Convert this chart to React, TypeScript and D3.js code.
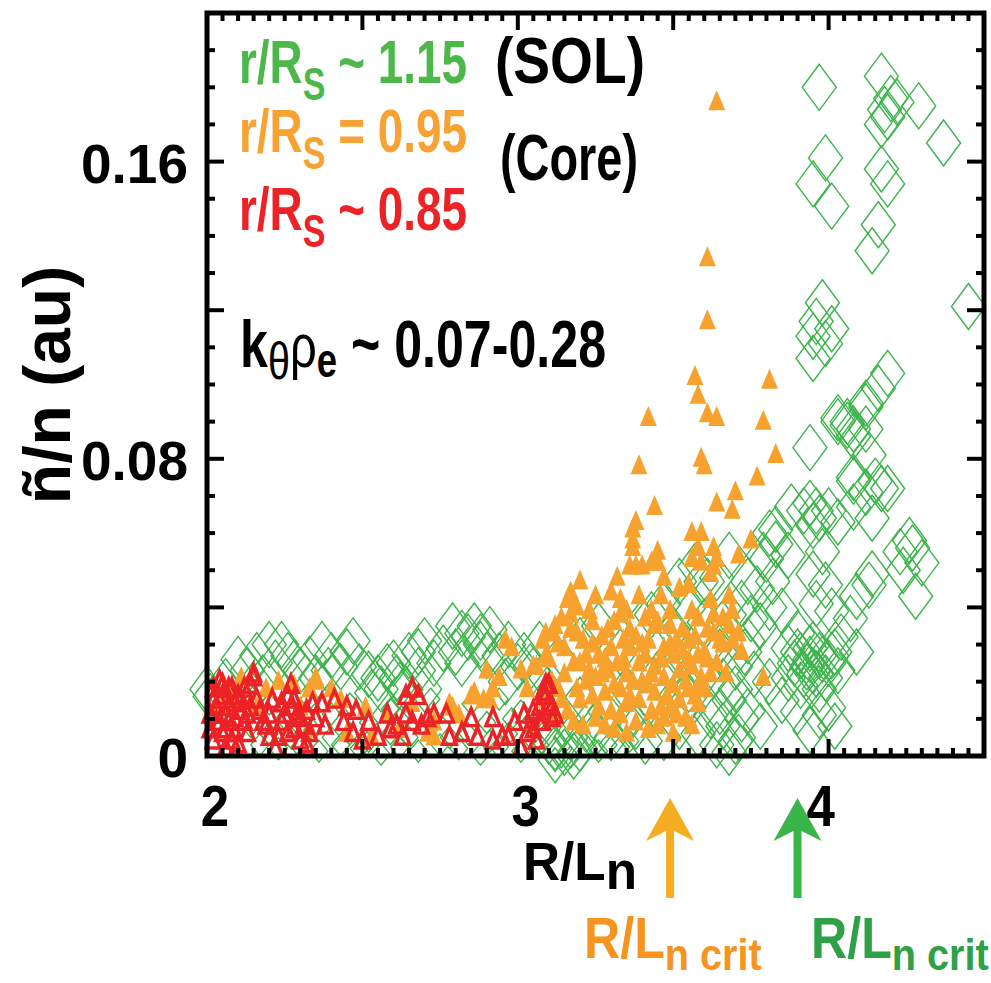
import React from 'react';
import * as d3 from 'd3';

// ---------- data ----------
const X_DOMAIN: [number, number] = [2, 4.5];
const Y_DOMAIN: [number, number] = [0, 0.2];
const X_TICK_LABELS = [2, 3, 4];
const Y_TICK_LABELS = [0, 0.08, 0.16];
const CRIT_CORE = 3.49; // R/Ln crit, core (r/Rs = 0.95)
const CRIT_SOL = 3.9; // R/Ln crit, SOL (r/Rs ~ 1.15)

// r/Rs ~ 1.15 (SOL), open diamonds
const solLarge: [number, number][] = [
  [3.97, 0.18], [4.17, 0.183], [4.2, 0.177], [4.18, 0.174], [4.22, 0.176], [4.29, 0.175], [4.17, 0.17], [4.19, 0.172],
  [4.37, 0.165], [3.99, 0.161], [3.95, 0.154], [4.01, 0.148], [4.17, 0.158], [4.19, 0.154], [4.16, 0.143], [4.14, 0.136],
  [4.45, 0.121], [3.98, 0.122], [3.96, 0.117], [4.01, 0.115], [3.95, 0.113], [3.99, 0.111], [3.95, 0.107], [4.19, 0.103],
  [4.16, 0.099], [4.12, 0.094], [4.03, 0.09], [4.06, 0.089], [4.08, 0.086], [3.94, 0.083], [4.13, 0.081], [4.08, 0.074],
  [4.17, 0.072], [4.12, 0.095], [4.03, 0.091], [4.06, 0.09], [4.08, 0.088], [4.12, 0.088], [4.08, 0.075], [4.15, 0.074],
  [4.19, 0.072], [4.12, 0.071], [3.94, 0.068], [3.96, 0.066], [3.92, 0.066], [3.97, 0.064], [4.0, 0.066], [3.95, 0.062],
  [4.03, 0.063], [4.14, 0.064], [4.08, 0.067], [4.26, 0.058], [4.27, 0.056], [4.23, 0.055], [4.3, 0.052], [4.28, 0.043],
  [4.24, 0.05], [4.14, 0.049], [4.13, 0.046], [4.09, 0.043], [3.83, 0.057], [3.8, 0.053], [3.77, 0.045], [3.87, 0.054],
  [3.98, 0.055], [3.95, 0.049], [3.99, 0.046], [3.96, 0.041], [4.01, 0.039], [4.07, 0.037], [4.09, 0.028], [4.04, 0.032],
  [3.85, 0.039], [3.81, 0.04], [3.75, 0.037], [3.9, 0.033],
  [3.87, 0.029], [3.91, 0.027], [3.94, 0.026], [3.97, 0.027], [4.0, 0.025], [3.95, 0.023], [3.92, 0.022], [3.89, 0.025],
  [3.99, 0.021], [3.94, 0.029], [4.02, 0.028], [3.91, 0.019], [3.97, 0.018], [3.87, 0.021], [4.03, 0.023], [3.93, 0.024],
  [3.96, 0.022], [3.98, 0.026], [3.9, 0.028], [3.95, 0.03], [4.01, 0.027],
  [3.9, 0.012], [3.97, 0.011], [4.02, 0.008], [3.94, 0.007], [4.0, 0.013], [3.71, 0.005],
  [3.83, 0.061], [3.79, 0.054], [3.82, 0.047], [3.74, 0.047], [3.72, 0.041], [3.68, 0.038], [3.64, 0.048], [3.57, 0.051],
  [3.61, 0.047], [3.52, 0.047], [3.47, 0.041], [3.43, 0.038], [3.74, 0.031], [3.7, 0.024], [3.66, 0.02], [3.68, 0.015],
  [3.62, 0.011], [3.55, 0.013], [3.52, 0.008], [3.47, 0.005], [3.41, 0.004], [3.36, 0.01], [3.3, 0.005], [3.23, 0.009],
  [3.17, 0.005], [3.12, 0.002], [3.81, 0.02], [3.85, 0.015], [3.88, 0.067], [3.81, 0.06], [3.59, 0.047], [3.68, 0.054],
  [3.66, 0.008], [3.7, 0.004], [3.72, 0.01], [3.64, 0.003], [3.68, 0.001],
  [3.12, -0.001], [3.15, 0.001], [3.18, 0.0], [3.14, 0.003], [3.2, 0.002], [3.1, 0.004],
  [2.0, 0.018], [2.01, 0.016], [2.13, 0.023], [2.24, 0.03], [2.26, 0.027], [2.3, 0.023], [2.22, 0.025], [2.18, 0.021],
  [2.4, 0.027], [2.45, 0.028], [2.49, 0.024], [2.39, 0.023], [2.35, 0.021], [2.56, 0.018], [2.61, 0.021], [2.65, 0.027],
  [2.68, 0.023], [2.64, 0.018], [2.79, 0.035], [2.84, 0.032], [2.88, 0.03], [2.91, 0.034], [2.76, 0.029], [2.82, 0.025],
  [2.94, 0.027], [3.0, 0.024], [3.05, 0.023], [2.82, 0.033], [2.88, 0.032], [2.68, 0.028], [2.55, 0.021], [3.04, 0.024],
  [3.09, 0.021], [2.58, 0.024], [2.62, 0.019],
  [2.06, 0.02], [2.1, 0.026], [2.16, 0.027], [2.2, 0.03], [2.28, 0.025], [2.33, 0.026], [2.37, 0.03], [2.43, 0.024],
  [2.47, 0.031], [2.52, 0.022], [2.6, 0.025], [2.7, 0.031], [2.73, 0.025], [2.8, 0.028], [2.86, 0.035], [2.9, 0.027],
  [2.97, 0.03], [3.02, 0.027], [3.07, 0.03], [2.53, 0.017], [2.7, 0.018], [2.96, 0.02],
  [3.13, 0.026], [3.2, 0.031], [3.26, 0.035], [3.33, 0.028], [3.4, 0.036], [3.45, 0.03], [3.5, 0.034], [3.55, 0.04],
  [3.6, 0.036], [3.2, 0.015], [3.28, 0.012], [3.35, 0.018], [3.42, 0.014], [3.48, 0.02], [3.55, 0.018], [3.6, 0.022],
  [3.65, 0.028], [3.62, 0.03], [3.58, 0.025], [3.5, 0.024], [3.45, 0.022], [3.38, 0.008], [3.25, 0.006], [3.15, 0.01],
  [3.58, 0.006], [3.65, 0.012], [3.7, 0.018], [3.73, 0.028], [3.76, 0.022], [3.78, 0.035], [3.74, 0.012], [3.78, 0.008],
];

const solSmall: [number, number][] = [
  [2.17, 0.003], [2.23, 0.002], [2.3, 0.0024], [2.36, 0.0013], [2.43, 0.003], [2.49, 0.002], [2.56, 0.0005], [2.62, 0.0024],
  [2.68, 0.0013], [2.75, 0.003], [2.81, 0.002], [2.88, 0.0005], [2.94, 0.0024], [3.01, 0.0013], [3.07, 0.003], [3.12, -0.0008],
  [3.17, -0.0003], [3.26, 0.0013], [3.33, 0.0024],
  [2.04, 0.0153], [2.11, 0.0126], [2.2, 0.014], [2.33, 0.0153], [2.4, 0.0113], [2.46, 0.014], [2.59, 0.0126], [2.72, 0.0153],
  [2.78, 0.0113], [2.85, 0.014], [2.94, 0.0153], [3.01, 0.0121], [3.09, 0.0153],
  [2.2, 0.006], [2.27, 0.005], [2.34, 0.007], [2.4, 0.005], [2.46, 0.006], [2.52, 0.004], [2.59, 0.006], [2.65, 0.005],
  [2.71, 0.007], [2.78, 0.005], [2.84, 0.006], [2.91, 0.004], [2.97, 0.006], [3.04, 0.005], [3.22, 0.004], [3.29, 0.003],
  [3.36, 0.004], [3.05, 0.009], [2.98, 0.01], [2.9, 0.009], [2.62, 0.01], [2.52, 0.009], [2.25, 0.01], [2.14, 0.008],
];

// r/Rs = 0.95 (core), filled triangles
const core095: [number, number][] = [
  [3.64, 0.176], [3.61, 0.134], [3.61, 0.117], [3.57, 0.102], [3.81, 0.101], [3.58, 0.097], [3.42, 0.091], [3.61, 0.092],
  [3.64, 0.091], [3.79, 0.09], [3.39, 0.078], [3.59, 0.08], [3.6, 0.078], [3.83, 0.081], [3.77, 0.075], [3.7, 0.071],
  [3.64, 0.068], [3.69, 0.066], [3.44, 0.067], [3.38, 0.063], [3.37, 0.061], [3.37, 0.058], [3.37, 0.056], [3.56, 0.06],
  [3.59, 0.06], [3.75, 0.058], [3.58, 0.056], [3.63, 0.056], [3.64, 0.053], [3.63, 0.051], [3.62, 0.049], [3.71, 0.054],
  [3.45, 0.055], [3.45, 0.052], [3.47, 0.048], [3.43, 0.052], [3.56, 0.053], [3.59, 0.052], [3.36, 0.051], [3.38, 0.051],
  [3.4, 0.051], [3.32, 0.048], [3.2, 0.047], [3.17, 0.044], [3.17, 0.042], [3.17, 0.038], [3.68, 0.043], [3.69, 0.039],
  [3.71, 0.033], [3.72, 0.028], [3.69, 0.031], [3.56, 0.039], [3.62, 0.042], [3.63, 0.038], [3.24, 0.036], [3.12, 0.035],
  [3.08, 0.031], [3.05, 0.024], [3.33, 0.038], [3.35, 0.039], [3.43, 0.039], [3.41, 0.037], [3.44, 0.035], [3.49, 0.035],
  [3.79, 0.021],
  [3.1, 0.026], [3.15, 0.029], [3.18, 0.025], [3.21, 0.031], [3.25, 0.021], [3.26, 0.027], [3.29, 0.023], [3.33, 0.018],
  [3.36, 0.029], [3.39, 0.025], [3.42, 0.019], [3.46, 0.026], [3.49, 0.03], [3.52, 0.023], [3.55, 0.018], [3.58, 0.027],
  [3.62, 0.022], [3.65, 0.031], [3.13, 0.018], [3.2, 0.015], [3.26, 0.013], [3.33, 0.011], [3.39, 0.015], [3.46, 0.013],
  [3.52, 0.015], [3.58, 0.014], [3.12, 0.01], [3.18, 0.009], [3.25, 0.01], [3.31, 0.007], [3.38, 0.009], [3.42, 0.007],
  [3.47, 0.01], [3.54, 0.01], [3.6, 0.018], [3.09, 0.015], [3.23, 0.039], [3.29, 0.034], [3.36, 0.034], [3.42, 0.031],
  [3.49, 0.039], [3.58, 0.037], [3.63, 0.033], [3.66, 0.037], [3.55, 0.031], [3.46, 0.043], [3.39, 0.043], [3.33, 0.042],
  [3.22, 0.02], [3.28, 0.017], [3.35, 0.022], [3.44, 0.024], [3.5, 0.019], [3.56, 0.024], [3.6, 0.028], [3.15, 0.022],
  [3.3, 0.029], [3.4, 0.02], [3.48, 0.016], [3.53, 0.028], [3.27, 0.032], [3.34, 0.026], [3.2, 0.025], [3.14, 0.015],
  [3.11, 0.02], [3.16, 0.012], [3.19, 0.033], [3.22, 0.027], [3.24, 0.016], [3.27, 0.022], [3.3, 0.012], [3.31, 0.036],
  [3.32, 0.025], [3.35, 0.014], [3.37, 0.02], [3.38, 0.032], [3.41, 0.027], [3.43, 0.012], [3.44, 0.017], [3.45, 0.036],
  [3.47, 0.021], [3.5, 0.027], [3.51, 0.011], [3.53, 0.034], [3.54, 0.02], [3.57, 0.032], [3.57, 0.016], [3.59, 0.021],
  [3.61, 0.026], [3.61, 0.034], [3.64, 0.025], [3.66, 0.03], [3.67, 0.022], [3.68, 0.035], [3.13, 0.03], [3.19, 0.04],
  [3.25, 0.043], [3.3, 0.044], [3.52, 0.045], [3.55, 0.046], [3.21, 0.008], [3.28, 0.008], [3.35, 0.006], [3.45, 0.008],
  [3.5, 0.006], [3.56, 0.008],
  [3.17, 0.034], [3.19, 0.018], [3.23, 0.023], [3.24, 0.03], [3.28, 0.026], [3.31, 0.019], [3.34, 0.031], [3.36, 0.016],
  [3.4, 0.03], [3.43, 0.022], [3.47, 0.029], [3.49, 0.013], [3.51, 0.031], [3.55, 0.026], [3.58, 0.019],
  [2.11, 0.021], [2.19, 0.018], [2.23, 0.02], [2.28, 0.019], [2.35, 0.02], [2.43, 0.015], [2.51, 0.013], [2.58, 0.011],
  [2.66, 0.014], [2.73, 0.009], [2.79, 0.013], [2.85, 0.016], [2.9, 0.023], [2.92, 0.018], [2.96, 0.031], [2.98, 0.029],
  [2.94, 0.021], [3.01, 0.023], [3.03, 0.018], [3.06, 0.024], [3.09, 0.027], [3.11, 0.033], [2.45, 0.006], [2.53, 0.005],
  [2.73, 0.005], [2.81, 0.011], [2.89, 0.015], [2.04, 0.013], [2.08, 0.016], [2.16, 0.013], [2.3, 0.013], [2.33, 0.007],
  [3.14, 0.037], [3.16, 0.042], [3.09, 0.033], [2.33, 0.018], [2.35, 0.021], [2.4, 0.018], [2.78, 0.014], [2.86, 0.017],
  [2.91, 0.015], [2.62, 0.007], [2.71, 0.006],
];

// r/Rs ~ 0.85 (core), open triangles
const core085: [number, number][] = [
  [2.02, 0.018], [2.04, 0.015], [2.05, 0.019], [2.07, 0.013], [2.1, 0.016], [2.03, 0.009], [2.06, 0.007], [2.02, 0.004],
  [2.08, 0.004], [2.12, 0.009], [2.11, 0.015], [2.15, 0.021], [2.14, 0.019], [2.14, 0.013], [2.17, 0.012], [2.19, 0.008],
  [2.2, 0.005], [2.22, 0.002], [2.26, 0.016], [2.27, 0.013], [2.24, 0.009], [2.28, 0.007], [2.3, 0.004], [2.32, 0.003],
  [2.23, 0.005], [2.33, 0.006], [2.34, 0.014], [2.37, 0.014], [2.41, 0.015], [2.38, 0.008], [2.44, 0.009], [2.45, 0.013],
  [2.48, 0.012], [2.47, 0.006], [2.5, 0.004], [2.52, 0.009], [2.55, 0.005], [2.58, 0.011], [2.59, 0.007], [2.61, 0.008],
  [2.63, 0.005], [2.64, 0.016], [2.66, 0.018], [2.68, 0.016], [2.64, 0.011], [2.66, 0.009], [2.69, 0.008], [2.71, 0.01],
  [2.73, 0.011], [2.77, 0.011], [2.78, 0.005], [2.82, 0.006], [2.85, 0.01], [2.87, 0.005], [2.92, 0.01], [2.92, 0.004],
  [2.95, 0.005], [2.97, 0.005], [2.99, 0.009], [3.02, 0.011], [3.01, 0.002], [3.05, 0.007], [3.07, 0.013], [3.09, 0.016],
  [3.1, 0.019], [3.06, 0.004], [3.08, 0.009], [3.11, 0.01],
  [2.03, 0.013], [2.06, 0.011], [2.09, 0.01], [2.11, 0.012], [2.04, 0.02], [2.08, 0.018], [2.05, 0.006], [2.13, 0.006],
  [2.1, 0.003], [2.16, 0.015], [2.18, 0.009], [2.25, 0.011], [2.28, 0.015], [2.3, 0.01], [2.27, 0.019], [2.15, 0.022],
  [3.09, 0.019], [3.11, 0.013], [3.12, 0.011],
  [2.01, 0.011], [2.02, 0.015], [2.04, 0.009], [2.05, 0.016], [2.07, 0.018], [2.07, 0.009], [2.09, 0.014], [2.09, 0.006],
  [2.12, 0.018], [2.13, 0.011], [2.01, 0.007], [2.06, 0.002], [2.2, 0.011], [2.21, 0.015], [2.24, 0.014], [2.26, 0.006],
  [2.29, 0.011], [2.31, 0.008], [2.32, 0.012], [2.35, 0.01], [3.05, 0.012], [3.07, 0.009], [3.08, 0.017], [3.03, 0.006],
  [3.1, 0.014],
];

// ---------- style ----------
const FONT = '"Liberation Sans", Arial, Helvetica, sans-serif';
const GREEN = '#3cb44a';
const ORANGE = '#f7a22e';
const RED = '#ed2226';
const LEG_GREEN = '#4cb849';
const LEG_ORANGE = '#f7a233';
const ARROW_ORANGE = '#f5ad22';
const ARROW_GREEN = '#39b54a';
const CRIT_ORANGE = '#f7941d';
const CRIT_GREEN = '#2ea045';

const W = 991;
const H = 983;
const M = { left: 207, right: 984, top: 13, bottom: 756 };

export default function App() {
  const x = d3.scaleLinear().domain(X_DOMAIN).range([M.left, M.right]);
  const y = d3.scaleLinear().domain(Y_DOMAIN).range([M.bottom, M.top]);

  const xTicks = d3.range(0, 51).map((i) => ({ v: X_DOMAIN[0] + i * 0.05, major: i % 10 === 0 }));
  const yTicks = d3.range(0, 21).map((i) => ({ v: i * 0.01, major: i % 4 === 0 }));

  const diamond = (hw: number, hh: number) => `M0,${-hh}L${hw},0L0,${hh}L${-hw},0Z`;
  const tri = (hw: number, hh: number) => `M0,${-hh * 0.6}L${hw},${hh * 0.4}L${-hw},${hh * 0.4}Z`;

  const arrow = (cx: number) => {
    const tip = 798, corner = 841, notch = 831, base = 898, hw = 24, sw = 4;
    return `M${cx},${tip}L${cx + hw},${corner}L${cx + sw},${notch}L${cx + sw},${base}L${cx - sw},${base}L${cx - sw},${notch}L${cx - hw},${corner}Z`;
  };

  const xLabelDx = [8, 8, -8];

  return (
    <svg
      width={W}
      height={H}
      style={{ position: 'absolute', left: 0, top: 0, background: '#fff' }}
      fontFamily={FONT}
    >
      <rect x={0} y={0} width={W} height={H} fill="#fff" />

      {/* SOL diamonds */}
      <g fill="none" stroke={GREEN} strokeWidth={1.4}>
        {solSmall.map((d, i) => (
          <path key={'s' + i} d={diamond(9, 11)} transform={`translate(${x(d[0])},${y(d[1])})`} />
        ))}
        {solLarge.map((d, i) => (
          <path key={'l' + i} d={diamond(17, 23)} transform={`translate(${x(d[0])},${y(d[1])})`} />
        ))}
      </g>

      {/* core 0.95 filled triangles */}
      <g fill={ORANGE} stroke="none">
        {core095.map((d, i) => (
          <path key={i} d={tri(8.5, 20)} transform={`translate(${x(d[0])},${y(d[1])})`} />
        ))}
      </g>

      {/* core 0.85 open triangles */}
      <g fill="none" stroke={RED} strokeWidth={3.4} strokeLinejoin="miter">
        {core085.map((d, i) => (
          <path key={i} d={tri(7, 17)} transform={`translate(${x(d[0])},${y(d[1])})`} />
        ))}
      </g>

      {/* frame */}
      <rect
        x={M.left}
        y={M.top}
        width={M.right - M.left}
        height={M.bottom - M.top}
        fill="none"
        stroke="#000"
        strokeWidth={5}
      />
      {/* ticks */}
      <g stroke="#000" strokeWidth={4}>
        {xTicks.map((t, i) => {
          const len = t.major ? 17 : 8;
          return (
            <g key={'x' + i}>
              <line x1={x(t.v)} x2={x(t.v)} y1={M.bottom} y2={M.bottom - len} />
              <line x1={x(t.v)} x2={x(t.v)} y1={M.top} y2={M.top + len} />
            </g>
          );
        })}
        {yTicks.map((t, i) => {
          const len = t.major ? 17 : 8;
          return (
            <g key={'y' + i}>
              <line x1={M.left} x2={M.left + len} y1={y(t.v)} y2={y(t.v)} />
              <line x1={M.right} x2={M.right - len} y1={y(t.v)} y2={y(t.v)} />
            </g>
          );
        })}
      </g>

      {/* tick labels */}
      <g fontWeight="bold" fill="#000">
        {Y_TICK_LABELS.map((v) => (
          <text key={v} x={188} y={y(v) + 21} fontSize={55} textAnchor="end">
            {v === 0 ? '0' : String(v)}
          </text>
        ))}
        {X_TICK_LABELS.map((v, i) => (
          <text
            key={v}
            transform={`translate(${x(v) + xLabelDx[i]},826) scale(0.88,1)`}
            fontSize={58}
            textAnchor="middle"
          >
            {String(v)}
          </text>
        ))}
      </g>

      {/* y axis title */}
      <text
        transform="translate(70,385) rotate(-90)"
        textAnchor="middle"
        fontSize={66}
        fontWeight="bold"
        fill="#000"
      >
        ñ/n (au)
      </text>

      {/* legend text */}
      <g fontWeight="bold" style={{ whiteSpace: 'pre' }}>
        <text transform="translate(239,83) scale(0.74,1)" fontSize={62} fill={LEG_GREEN}>
          r/R<tspan fontSize={46} dy={17}>S</tspan>
          <tspan dy={-17}>{' ~ 1.15'}</tspan>
        </text>
        <text transform="translate(239,152) scale(0.74,1)" fontSize={62} fill={LEG_ORANGE}>
          r/R<tspan fontSize={46} dy={17}>S</tspan>
          <tspan dy={-17}>{' = 0.95'}</tspan>
        </text>
        <text transform="translate(239,230) scale(0.74,1)" fontSize={62} fill={RED}>
          r/R<tspan fontSize={46} dy={17}>S</tspan>
          <tspan dy={-17}>{' ~ 0.85'}</tspan>
        </text>
        <text x={495} y={83} fontSize={65} fill="#000" textLength={150} lengthAdjust="spacingAndGlyphs">
          (SOL)
        </text>
        <text x={500} y={180} fontSize={65} fill="#000" textLength={138} lengthAdjust="spacingAndGlyphs">
          (Core)
        </text>
        <text transform="translate(240,367) scale(0.76,1)" fontSize={66} fill="#000">
          k<tspan fontWeight="normal" fontSize={52} dy={12}>θ</tspan>
          <tspan fontWeight="normal" fontSize={62} dy={-12}>ρ</tspan>
          <tspan fontSize={48} dy={10}>e</tspan>
          <tspan dy={-10}>{' ~ 0.07-0.28'}</tspan>
        </text>
      </g>

      {/* x axis title */}
      <g fontWeight="bold" style={{ whiteSpace: 'pre' }}>
        <text transform="translate(523,880) scale(0.95,1)" fontSize={54} fill="#000">
          R/L<tspan fontSize={54} dy={9}>n</tspan>
        </text>
        <text transform="translate(584,958) scale(0.88,1)" fontSize={57} fill={CRIT_ORANGE}>
          R/L<tspan fontSize={45} dy={12}>{'n crit'}</tspan>
        </text>
        <text transform="translate(811,958) scale(0.88,1)" fontSize={57} fill={CRIT_GREEN}>
          R/L<tspan fontSize={45} dy={12}>{'n crit'}</tspan>
        </text>
      </g>

      {/* critical gradient arrows */}
      <path d={arrow(x(CRIT_CORE))} fill={ARROW_ORANGE} />
      <path d={arrow(x(CRIT_SOL))} fill={ARROW_GREEN} />
    </svg>
  );
}
